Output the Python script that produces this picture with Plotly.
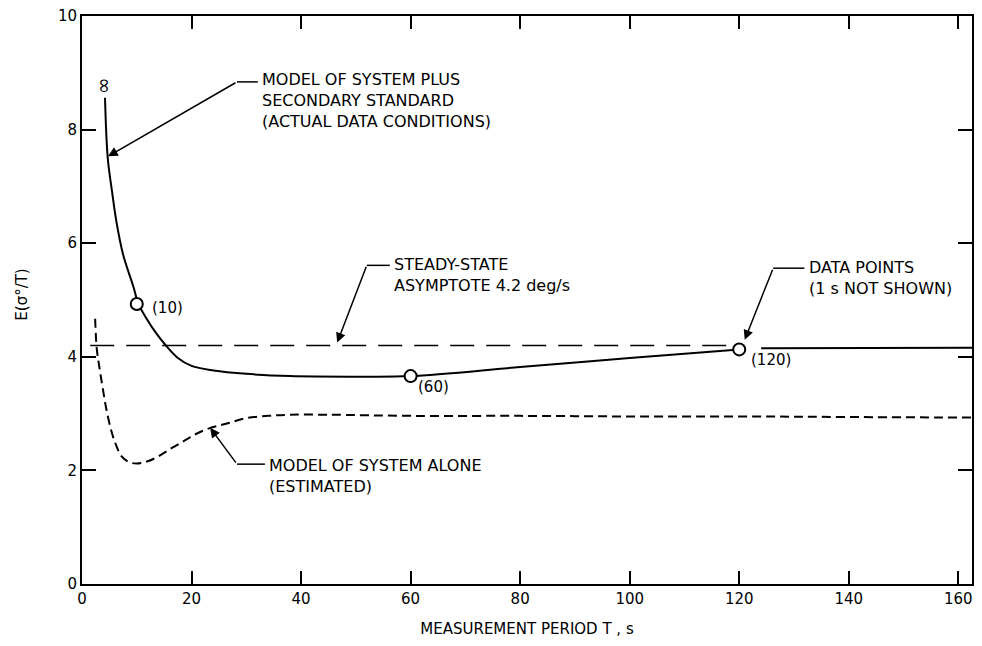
import plotly.graph_objects as go

# model of system plus secondary standard (solid)
std_x = [4.2, 4.7, 5.5, 6.3, 7.5, 9.4, 10.3, 11.8, 13.5, 15.4, 17.5, 20, 24, 30, 38, 50, 60, 80, 100, 120]
std_y = [8.56, 7.5, 6.9, 6.37, 5.8, 5.23, 4.93, 4.67, 4.42, 4.19, 3.98, 3.84, 3.76, 3.7, 3.66, 3.65, 3.66, 3.82, 3.98, 4.13]
tail_x = [124, 135, 150, 163]
tail_y = [4.15, 4.15, 4.15, 4.16]

# model of system alone (dashed)
alone_x = [2.4, 2.7, 3.2, 3.8, 4.5, 5.4, 6.2, 7.2, 8.5, 10, 12, 14, 16.5, 19, 21, 23.2, 26.3, 30, 34, 38, 45,
           60, 80, 100, 120, 140, 163]
alone_y = [4.67, 4.14, 3.8, 3.44, 3.05, 2.68, 2.45, 2.25, 2.15, 2.12, 2.16, 2.25, 2.4, 2.54, 2.65, 2.74, 2.82,
           2.92, 2.96, 2.98, 2.98, 2.96, 2.96, 2.95, 2.95, 2.94, 2.93]

# steady-state asymptote
asym_x = [1.5, 119]
asym_y = [4.2, 4.2]

# data points
pts_x = [10, 60, 120]
pts_y = [4.93, 3.66, 4.13]
pts_lbl = ["(10)", "(60)", "(120)"]

FONT = "DejaVu Sans"

fig = go.Figure()
fig.add_trace(go.Scatter(x=asym_x, y=asym_y, mode="lines",
                         line=dict(color="black", width=1.6, dash="24px,12px")))
fig.add_trace(go.Scatter(x=alone_x, y=alone_y, mode="lines",
                         line=dict(color="black", width=2, dash="9px,5px", shape="spline")))
fig.add_trace(go.Scatter(x=std_x, y=std_y, mode="lines",
                         line=dict(color="black", width=2, shape="spline")))
fig.add_trace(go.Scatter(x=tail_x, y=tail_y, mode="lines",
                         line=dict(color="black", width=2)))
fig.add_trace(go.Scatter(x=pts_x, y=pts_y, mode="markers",
                         marker=dict(size=12, color="white", line=dict(color="black", width=2))))

# point labels
lbl_off = [(2.4, -0.07), (0.9, -0.2), (1.7, -0.18)]
for px, py, t, (dx, dy) in zip(pts_x, pts_y, pts_lbl, lbl_off):
    fig.add_annotation(x=px + dx, y=py + dy, text=t, showarrow=False, xanchor="left",
                       font=dict(family=FONT, size=15, color="black"))

fig.add_annotation(x=4.2, y=8.78, text="∞", textangle=90, showarrow=False,
                   font=dict(family=FONT, size=20, color="black"))

# callouts: (tip, elbow, end of horizontal, text, text y)
callouts = [
    ((4.75, 7.53), (28.3, 8.84), 32.1, "MODEL OF SYSTEM PLUS<br>SECONDARY STANDARD<br>(ACTUAL DATA CONDITIONS)", 8.52),
    ((46.6, 4.25), (52.0, 5.61), 56.2, "STEADY-STATE<br>ASYMPTOTE 4.2 deg/s", 5.44),
    ((121.0, 4.3), (126.2, 5.56), 131.9, "DATA POINTS<br>(1 s NOT SHOWN)", 5.38),
    ((23.4, 2.75), (28.3, 2.11), 33.4, "MODEL OF SYSTEM ALONE<br>(ESTIMATED)", 1.9),
]
for tip, elbow, hend, txt, ty in callouts:
    fig.add_annotation(x=tip[0], y=tip[1], ax=elbow[0], ay=elbow[1], axref="x", ayref="y",
                       text="", showarrow=True, arrowhead=2, arrowsize=1.3, arrowwidth=1.5,
                       arrowcolor="black")
    fig.add_shape(type="line", x0=elbow[0], y0=elbow[1], x1=hend, y1=elbow[1],
                  line=dict(color="black", width=1.5))
    fig.add_annotation(x=hend + 0.4, y=ty, text=txt, showarrow=False, xanchor="left",
                       yanchor="middle", align="left",
                       font=dict(family=FONT, size=16, color="black"))

fig.add_annotation(xref="paper", yref="paper", x=-0.067, y=0.51, text="E(σ°/T)", textangle=-90,
                   xanchor="center", yanchor="middle", showarrow=False,
                   font=dict(family=FONT, size=15, color="black"))

fig.update_xaxes(range=[0, 162.5], tickvals=list(range(0, 161, 20)), showline=True, linewidth=2,
                 linecolor="black", mirror="ticks", ticks="inside", ticklen=13, tickwidth=2,
                 tickcolor="black", showgrid=False, zeroline=False, automargin=False,
                 ticklabeloverflow="allow",
                 tickfont=dict(family=FONT, size=15, color="black"),
                 title=dict(text="MEASUREMENT PERIOD T , s", standoff=17,
                            font=dict(family=FONT, size=15, color="black")))
fig.update_yaxes(range=[0, 10], tickvals=list(range(0, 11, 2)), showline=True, linewidth=2,
                 linecolor="black", mirror="ticks", ticks="inside", ticklen=14, tickwidth=2,
                 tickcolor="black", showgrid=False, zeroline=False, automargin=False,
                 ticklabeloverflow="allow",
                 tickfont=dict(family=FONT, size=15, color="black"))

# page body has an 8px margin, so the figure is sized to fit inside the window
fig.update_layout(width=966, height=630, showlegend=False, plot_bgcolor="white",
                  paper_bgcolor="white", margin=dict(l=74, r=2, t=8, b=54))

fig.write_html("out.html")
